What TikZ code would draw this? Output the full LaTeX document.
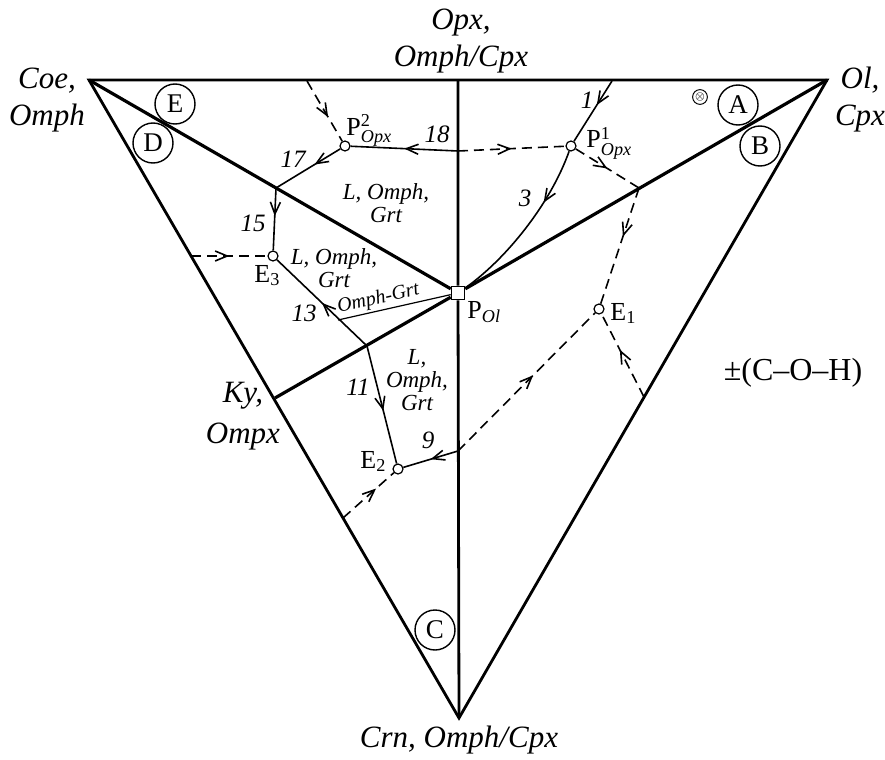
\documentclass[tikz,border=0pt]{standalone}
\usepackage{fontspec}
\setmainfont{Liberation Serif}
\usepackage{amsmath}
\usetikzlibrary{arrows.meta, decorations.markings, positioning, calc}
\tikzset{
    edge/.style={line width=1.4pt},
    boundary/.style={line width=1.6pt},
    cotectic/.style={line width=0.8pt},
    hidden/.style={line width=0.8pt, dash pattern=on 5pt off 3pt},
    midarrow/.style={
        postaction={decorate, decoration={markings,
            mark=at position #1 with {\arrow{Straight Barb[length=6pt,width=5pt]}}}}
    },
    point/.style={
        circle, draw, fill=white, line width=0.6pt, minimum size=5pt, inner sep=0pt
    },
    field/.style={
        circle, draw, line width=0.7pt, minimum size=20pt, inner sep=0pt,
        font=\fontsize{13.5}{16}\selectfont
    },
    apex/.style={align=center, font=\fontsize{15.5}{18.5}\selectfont\itshape},
    phase/.style={align=center, font=\fontsize{11.5}{11.5}\selectfont\itshape},
    curvenum/.style={font=\fontsize{12.5}{15}\selectfont\itshape},
    ptlabel/.style={anchor=base west, inner sep=0pt, font=\fontsize{13}{15}\selectfont}
}

\begin{document}
\begin{tikzpicture}[x=0.5pt, y=-0.5pt]
    \useasboundingbox (0,0) rectangle (885,760);

    % corners of the triangle
    \coordinate (coe) at (89,80);
    \coordinate (ol)  at (827,80);
    \coordinate (crn) at (459,718);
    \coordinate (opx) at (458,80);
    \coordinate (ky)  at (275,398);
    \node[draw, fill=white, line width=0.8pt, minimum size=6.5pt, inner sep=0pt] (pol) at (458,293) {};

    % points on the boundaries
    \coordinate (t1)  at (612,81);
    \coordinate (t2)  at (307,81);
    \coordinate (j18) at (458,151);
    \coordinate (j17) at (276,188);
    \coordinate (j13) at (367,346);
    \coordinate (j9)  at (458,451);
    \coordinate (jd)  at (639,188);
    \coordinate (l3)  at (191,256);
    \coordinate (l2)  at (343,518);
    \coordinate (r1)  at (644,397);

    % invariant points
    \node[point] (p2) at (345,146) {};
    \node[point] (p1) at (571,146) {};
    \node[point] (e3) at (273,256) {};
    \node[point] (e1) at (599,309) {};
    \node[point] (e2) at (398,469) {};

    \draw[edge] (coe) -- (ol) -- (crn) -- cycle;
    \draw[edge] (opx) -- (pol) (pol) -- (crn);
    \draw[boundary] (coe) -- (pol) -- (ol);
    \draw[boundary] (pol) -- (ky);

    % univariant lines
    \draw[cotectic, midarrow=0.4] (t1) -- (p1);
    \draw[cotectic, midarrow=0.33] (p1) .. controls (550,205) and (505,260) .. (pol);
    \draw[cotectic, midarrow=0.5] (j18) -- (p2);
    \draw[cotectic, midarrow=0.4] (p2) -- (j17);
    \draw[cotectic, midarrow=0.45] (j17) -- (e3);
    \draw[cotectic, midarrow=0.5] (j13) -- (e3);
    \draw[cotectic, midarrow=0.55] (j13) -- (e2);
    \draw[cotectic, midarrow=0.5] (j9) -- (e2);

    % metastable lines
    \draw[hidden, midarrow=0.6] (t2) -- (p2);
    \draw[hidden, midarrow=0.5] (j18) -- (p1);
    \draw[hidden, midarrow=0.5] (p1) -- (jd);
    \draw[hidden, midarrow=0.42] (jd) -- (e1);
    \draw[hidden, midarrow=0.5] (l3) -- (e3);
    \draw[hidden, midarrow=0.55] (j9) -- (e1);
    \draw[hidden, midarrow=0.57] (r1) -- (e1);
    \draw[hidden, midarrow=0.65] (l2) -- (e2);

    \node[font=\fontsize{10}{12}\selectfont\itshape, rotate=12.7, anchor=south west, inner sep=1pt] (og) at (338,320) {Omph-Grt};
    \draw[line width=0.6pt] (og.south west) -- (pol);

    % fields
    \node[field] (fa) at (738,105) {A};
    \node[field] (fb) at (760,146) {B};
    \node[field] (fc) at (435,630) {C};
    \node[field] (fd) at (153,143) {D};
    \node[field] (fe) at (175,104) {E};
    \node[circle, draw, line width=0.5pt, inner sep=0.2pt, font=\tiny] (cross) at (700,97) {$\otimes$};

    % corner labels
    \node[apex] (lopx) at (461,41)  {Opx,\\Omph/Cpx};
    \node[apex] (lcoe) at (47,100)  {Coe,\\Omph};
    \node[apex] (lol)  at (860,100) {Ol,\\Cpx};
    \node[apex] (lky)  at (243,416) {Ky,\\[2pt]Ompx};
    \node[apex] (lcrn) at (459,740) {Crn, Omph/Cpx};

    % point labels
    \node[ptlabel] (lp2) at (346,135) {P$^{\text{2}}_{\text{\itshape Opx}}$};
    \node[ptlabel] (lp1) at (586,148) {P$^{\text{1}}_{\text{\itshape Opx}}$};
    \node[ptlabel] (lpo) at (467,318) {P$_{\text{\itshape Ol}}$};
    \node[ptlabel] (le1) at (610,320) {E$_{\text{1}}$};
    \node[ptlabel] (le2) at (360,468) {E$_{\text{2}}$};
    \node[ptlabel] (le3) at (254,282) {E$_{\text{3}}$};

    % curve numbers
    \node[curvenum] (n1)  at (587,100) {1};
    \node[curvenum] (n3)  at (525,198) {3};
    \node[curvenum] (n18) at (437,134) {18};
    \node[curvenum] (n17) at (293,159) {17};
    \node[curvenum] (n15) at (253,223) {15};
    \node[curvenum] (n13) at (304,313) {13};
    \node[curvenum] (n11) at (358,387) {11};
    \node[curvenum] (n9)  at (428,440) {9};

    % phase assemblages
    \node[phase] (ph1) at (386,203) {L, Omph,\\Grt};
    \node[phase] (ph2) at (334,268) {L, Omph,\\Grt};
    \node[phase] (ph3) at (417,380) {L,\\Omph,\\Grt};
    \node[font=\fontsize{16}{18}\selectfont] (fluid) at (793,373) {±(C–O–H)};
\end{tikzpicture}
\end{document}
